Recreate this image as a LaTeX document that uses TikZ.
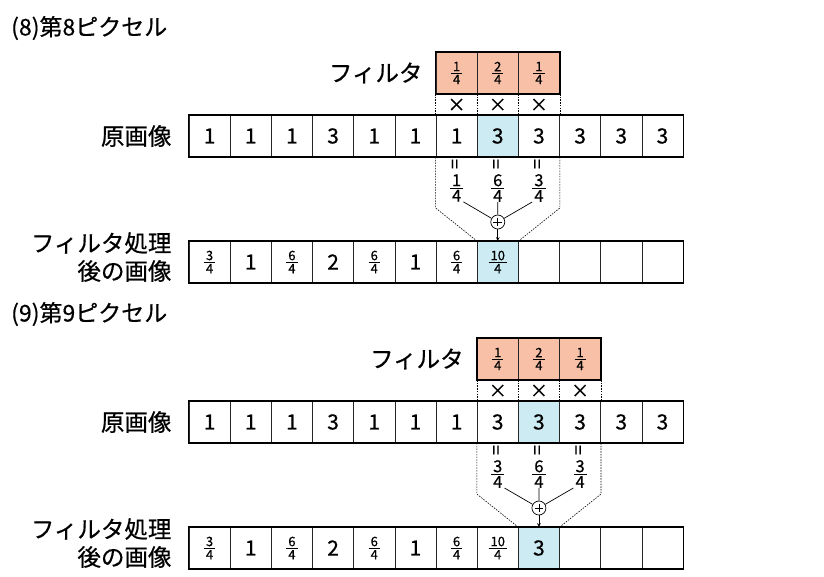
\documentclass[tikz,border=0pt]{standalone}
\usepackage{fontspec}
\setmainfont{Noto Sans CJK JP}[UprightFeatures={FakeBold=0.5}]
\usepackage{tikz}
\definecolor{filterred}{RGB}{248,192,167}
\definecolor{pickblue}{RGB}{205,235,242}
\newcommand{\fr}[3][13]{{\fontsize{#1}{#1}\selectfont
    $\vcenter{\halign{\hfil\kern2pt##\kern2pt\hfil\cr #2\cr
        \noalign{\kern1.4pt\hrule height0.9pt\kern1.4pt} #3\cr}}$}}

\begin{document}
\begin{tikzpicture}
    [
        x=1pt, y=-1pt,
        cell/.style={draw=black!85, line width=0.6pt, inner sep=0pt,
            minimum width=41.2pt, minimum height=41.5pt,
            font=\fontsize{21}{21}\selectfont},
        pick/.style={fill=pickblue},
        weight/.style={cell, fill=filterred},
        frame/.style={line width=1.6pt},
        dots/.style={dash pattern=on 1.5pt off 1.2pt, line width=0.6pt},
        title/.style={anchor=west, inner sep=0pt, font=\fontsize{23}{23}\selectfont},
        rowlabel/.style={anchor=east, inner sep=0pt, align=right,
            font=\fontsize{23.5}{28}\selectfont},
        times/.style={inner sep=0pt, font=\fontsize{18}{18}\selectfont},
        equal/.style={inner sep=0pt, rotate=90, font=\fontsize{18}{18}\selectfont},
        part/.style={inner sep=0pt},
        plus/.style={circle, draw, line width=0.7pt, inner sep=0pt, minimum size=14pt}
    ]
    \useasboundingbox (0,0) rectangle (824,576);

    % (8) pixel 8
    \node[title] (t8) at (11,28) {(8)第8ピクセル};
    \foreach \i/\v in {7/\fr{1}{4}, 8/\fr{2}{4}, 9/\fr{1}{4}}
        \node[weight] (af\i) at (168.4+41.17*\i,73) {\v};
    \draw[frame] (af7.north west) rectangle (af9.south east);
    \node[rowlabel] (aflab) at ([xshift=-13pt]af7.west) {フィルタ};
    \foreach \v/\s [count=\i] in {1/,1/,1/,3/,1/,1/,1/,3/pick,3/,3/,3/,3/}
        \node[cell,\s] (a\i) at (168.4+41.17*\i,136) {\v};
    \draw[frame] (a1.north west) rectangle (a12.south east);
    \node[rowlabel] (alab) at ([xshift=-17pt]a1.west) {原画像};
    \foreach \i/\v in {7/\fr[16.5]{1}{4}, 8/\fr[16.5]{6}{4}, 9/\fr[16.5]{3}{4}}
    {
        \node[times] (ax\i) at (168.4+41.17*\i,105) {×};
        \draw[dots] (af\i.south west) -- (a\i.north west);
        \node[equal] (ae\i) at (168.4+41.17*\i,164) {=};
        \node[part] (ad\i) at (168.4+41.17*\i,188) {\v};
    }
    \draw[dots] (af9.south east) -- (a9.north east);
    \foreach \v/\s [count=\i] in {\fr{3}{4}/,1/,\fr{6}{4}/,2/,\fr{6}{4}/,1/,\fr{6}{4}/,\fr{10}{4}/pick,/,/,/,/}
        \node[cell,\s] (ar\i) at (168.4+41.17*\i,262) {\v};
    \draw[frame] (ar1.north west) rectangle (ar12.south east);
    \node[rowlabel] (arlab) at ([xshift=-17pt,yshift=5pt]ar1.west) {フィルタ処理\\後の画像};
    \node[plus] (asum) at (ar8 |- 0,222) {};
    \draw[line width=0.7pt, shorten <=3pt, shorten >=3pt] (asum.north) -- (asum.south);
    \draw[line width=0.7pt, shorten <=3pt, shorten >=3pt] (asum.west) -- (asum.east);
    \draw[line width=0.7pt] (ad7.south east) -- (asum) (ad8) -- (asum) (ad9.south west) -- (asum);
    \draw[line width=0.7pt, -stealth] (asum) -- (ar8.north);
    \draw[dots] (a7.south west) -- ++(0,51) -- (ar8.north west);
    \draw[dots] (a9.south east) -- ++(0,51) -- (ar8.north east);

    % (9) pixel 9
    \node[title] (t9) at (11,314) {(9)第9ピクセル};
    \foreach \i/\v in {8/\fr{1}{4}, 9/\fr{2}{4}, 10/\fr{1}{4}}
        \node[weight] (bf\i) at (168.4+41.17*\i,359) {\v};
    \draw[frame] (bf8.north west) rectangle (bf10.south east);
    \node[rowlabel] (bflab) at ([xshift=-13pt]bf8.west) {フィルタ};
    \foreach \v/\s [count=\i] in {1/,1/,1/,3/,1/,1/,1/,3/,3/pick,3/,3/,3/}
        \node[cell,\s] (b\i) at (168.4+41.17*\i,422) {\v};
    \draw[frame] (b1.north west) rectangle (b12.south east);
    \node[rowlabel] (blab) at ([xshift=-17pt]b1.west) {原画像};
    \foreach \i/\v in {8/\fr[16.5]{3}{4}, 9/\fr[16.5]{6}{4}, 10/\fr[16.5]{3}{4}}
    {
        \node[times] (bx\i) at (168.4+41.17*\i,391) {×};
        \draw[dots] (bf\i.south west) -- (b\i.north west);
        \node[equal] (be\i) at (168.4+41.17*\i,450) {=};
        \node[part] (bd\i) at (168.4+41.17*\i,474) {\v};
    }
    \draw[dots] (bf10.south east) -- (b10.north east);
    \foreach \v/\s [count=\i] in {\fr{3}{4}/,1/,\fr{6}{4}/,2/,\fr{6}{4}/,1/,\fr{6}{4}/,\fr{10}{4}/,3/pick,/,/,/}
        \node[cell,\s] (br\i) at (168.4+41.17*\i,548) {\v};
    \draw[frame] (br1.north west) rectangle (br12.south east);
    \node[rowlabel] (brlab) at ([xshift=-17pt,yshift=5pt]br1.west) {フィルタ処理\\後の画像};
    \node[plus] (bsum) at (br9 |- 0,508) {};
    \draw[line width=0.7pt, shorten <=3pt, shorten >=3pt] (bsum.north) -- (bsum.south);
    \draw[line width=0.7pt, shorten <=3pt, shorten >=3pt] (bsum.west) -- (bsum.east);
    \draw[line width=0.7pt] (bd8.south east) -- (bsum) (bd9) -- (bsum) (bd10.south west) -- (bsum);
    \draw[line width=0.7pt, -stealth] (bsum) -- (br9.north);
    \draw[dots] (b8.south west) -- ++(0,51) -- (br9.north west);
    \draw[dots] (b10.south east) -- ++(0,51) -- (br9.north east);
\end{tikzpicture}
\end{document}
